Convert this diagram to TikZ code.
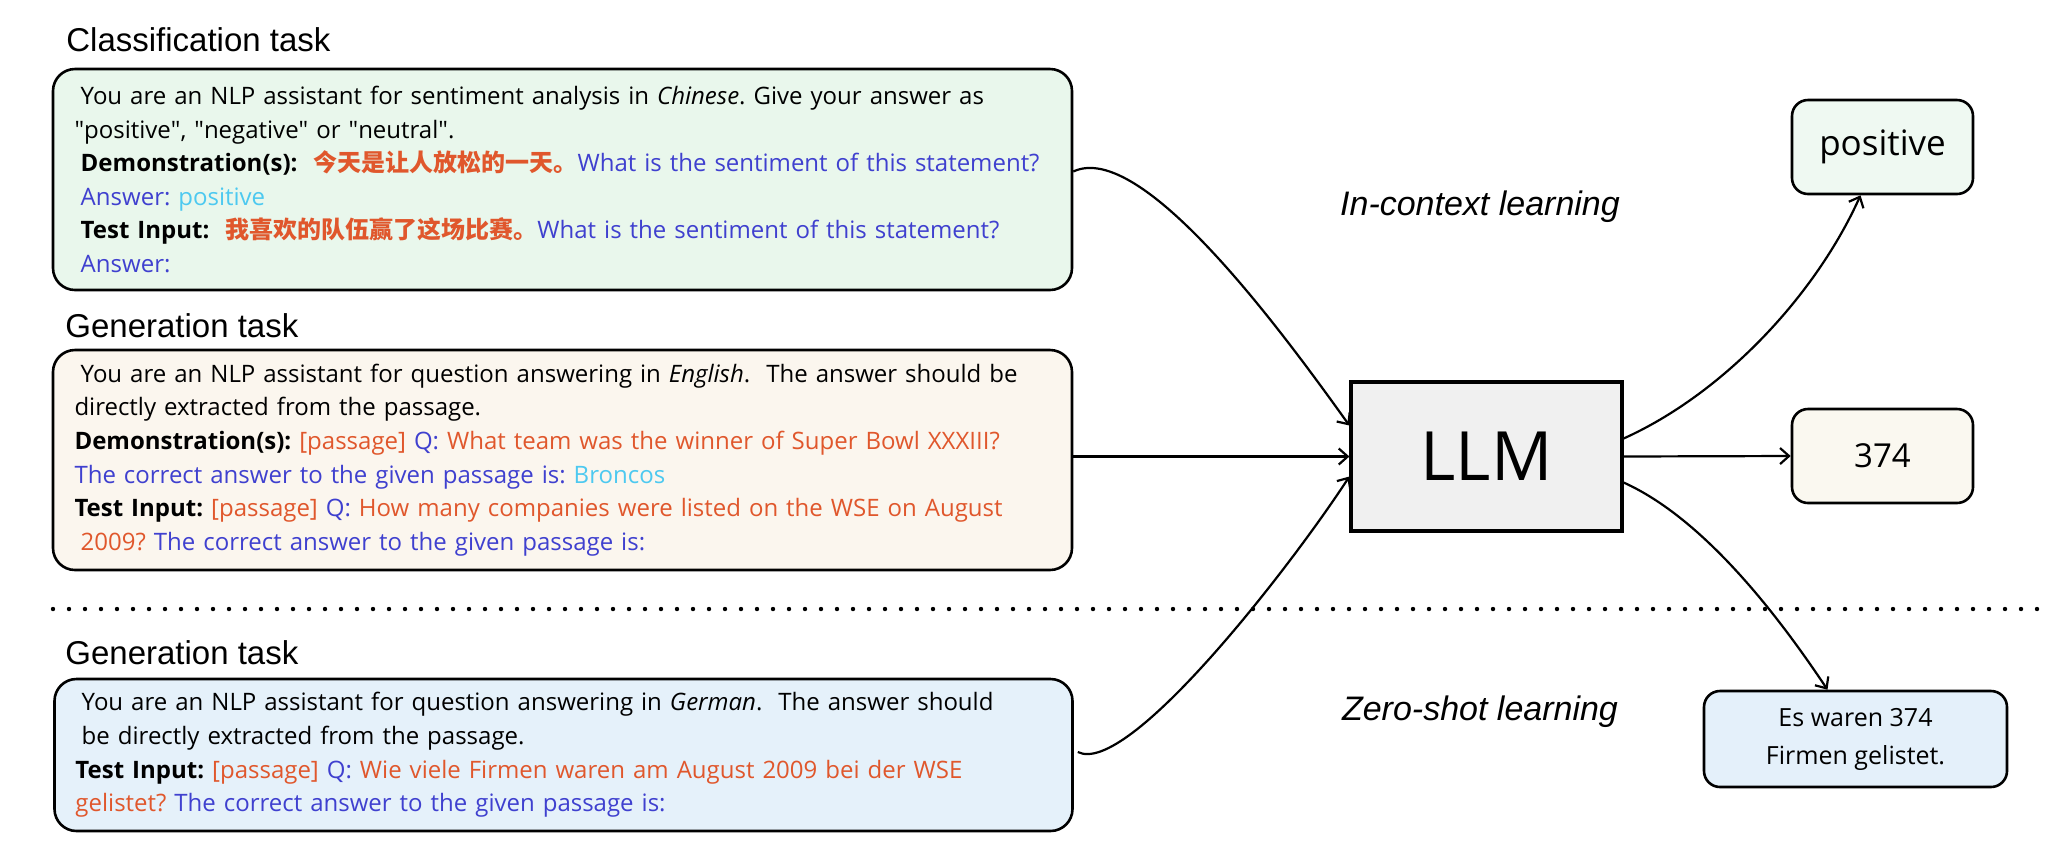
\documentclass[tikz,border=0pt]{standalone}
\usepackage{fontspec}
\usepackage{xcolor}
\usetikzlibrary{arrows.meta}
\setmainfont{Open Sans}
\newfontfamily\headfont{Liberation Sans}
\newfontfamily\cjk{Noto Sans CJK SC}
\definecolor{clsgreen}{HTML}{E9F7EC}
\definecolor{gencream}{HTML}{FBF6EE}
\definecolor{zeroblue}{HTML}{E5F1FA}
\definecolor{posgreen}{HTML}{EFF9F2}
\definecolor{anscream}{HTML}{FAF8F0}
\definecolor{ansblue}{HTML}{E4F0FA}
\definecolor{llmgray}{HTML}{F0F0F0}
\definecolor{txtorange}{HTML}{E0572C}
\definecolor{txtblue}{HTML}{3F40CF}
\definecolor{txtcyan}{HTML}{4DC9F0}
\newcommand{\orn}[1]{\textcolor{txtorange}{#1}}
\newcommand{\blu}[1]{\textcolor{txtblue}{#1}}
\newcommand{\cyn}[1]{\textcolor{txtcyan}{#1}}
\newcommand{\zh}[1]{\textcolor{txtorange}{\cjk\bfseries #1}}
\newcommand{\ind}{\hspace*{0.26em}}
\newcommand{\qt}[1]{\textquotedbl#1\textquotedbl}
\frenchspacing

\begin{document}
\begin{tikzpicture}[x=0.5pt,y=-0.5pt,
  prompt/.style={draw, line width=1.3pt, rounded corners=11pt, minimum width=509.5pt,
    text width=488pt, inner xsep=10.5pt, align=left, font=\fontsize{12}{16.8}\selectfont},
  answer/.style={draw, line width=1.3pt, rounded corners=8pt, minimum width=90.5pt,
    minimum height=47pt, align=center},
  head/.style={anchor=west, inner sep=0pt, font=\headfont\fontsize{16.5}{20}\selectfont},
  learn/.style={inner sep=0pt, font=\headfont\itshape\fontsize{17}{20}\selectfont},
  conn/.style={line width=1.1pt, -{Straight Barb[length=4.5pt,width=8pt]}}]
\useasboundingbox (0,0) rectangle (2068,864);

\node[head] (clshead) at (66,40) {Classification task};
\node[prompt, fill=clsgreen, minimum height=110.5pt] (clsbox) at (562.5,179.5) {%
\ind You are an NLP assistant for sentiment analysis in \textit{Chinese}. Give your answer as\\
\qt{positive}, \qt{negative} or \qt{neutral}.\\
\ind\textbf{Demonstration(s):}\ \ \zh{今天是让人放松的一天。}\blu{What is the sentiment of this statement?}\\
\ind\blu{Answer:} \cyn{positive}\\
\ind\textbf{Test Input:}\ \ \zh{我喜欢的队伍赢了这场比赛。}\blu{What is the sentiment of this statement?}\\
\ind\blu{Answer:}};

\node[head] (genhead) at (65,326) {Generation task};
\node[prompt, fill=gencream, minimum height=110pt] (genbox) at (562.5,460) {%
\ind You are an NLP assistant for question answering in \textit{English}.\ \ The answer should be\\
directly extracted from the passage.\\
\textbf{Demonstration(s):} \orn{[passage]} \blu{Q:} \orn{What team was the winner of Super Bowl XXXIII?}\\
\blu{The correct answer to the given passage is:} \cyn{Broncos}\\
\textbf{Test Input:} \orn{[passage]} \blu{Q:} \orn{How many companies were listed on the WSE on August}\\
\ind\orn{2009?} \blu{The correct answer to the given passage is:}};

\draw[line width=2.2pt, line cap=round, dash pattern=on 0pt off 8pt] (53,609) -- (2038,609);

\node[head] (zerohead) at (65,653) {Generation task};
\node[prompt, fill=zeroblue, minimum width=508.5pt, minimum height=76pt] (zerobox) at (563.5,755) {%
\ind You are an NLP assistant for question answering in \textit{German}.\ \ The answer should\\
\ind be directly extracted from the passage.\\
\textbf{Test Input:} \orn{[passage]} \blu{Q:} \orn{Wie viele Firmen waren am August 2009 bei der WSE}\\
\orn{gelistet?} \blu{The correct answer to the given passage is:}};

\node[draw, line width=1.6pt, fill=llmgray, minimum width=135.5pt, minimum height=74.5pt,
  font=\fontsize{34}{40}\selectfont] (llm) at (1486.5,456.5) {LLM};

\node[learn] (icl) at (1480,207) {In-context learning};
\node[learn] (zsl) at (1480,712) {Zero-shot learning};

\node[answer, fill=posgreen, font=\fontsize{17.5}{20}\selectfont] (pos) at (1882.5,147) {positive};
\node[answer, fill=anscream, font=\fontsize{16.5}{20}\selectfont] (num) at (1882.5,456) {374};
\node[answer, fill=ansblue, minimum width=151.5pt, minimum height=48pt,
  font=\fontsize{12.5}{19}\selectfont] (es) at (1855.5,739) {Es waren 374\\Firmen gelistet.};

\draw[conn] ([yshift=4pt]clsbox.east) .. controls +(68,-32) and +(-68,-95) .. ([yshift=15.5pt]llm.west);
\draw[conn] (genbox.east |- llm.west) -- (llm.west);
\draw[conn] ([xshift=2pt,yshift=1.5pt]zerobox.east) .. controls +(50,25) and +(-60,92) .. ([yshift=-10pt]llm.west);
\draw[conn] ([yshift=9pt]llm.east) .. controls +(100,-45) and +(-45,100) .. ([xshift=-11pt]pos.south);
\draw[conn] (llm.east) -- (num.west);
\draw[conn] ([yshift=-13pt]llm.east) .. controls +(80,36) and +(-50,-75) .. ([xshift=-14pt]es.north);
\end{tikzpicture}
\end{document}
